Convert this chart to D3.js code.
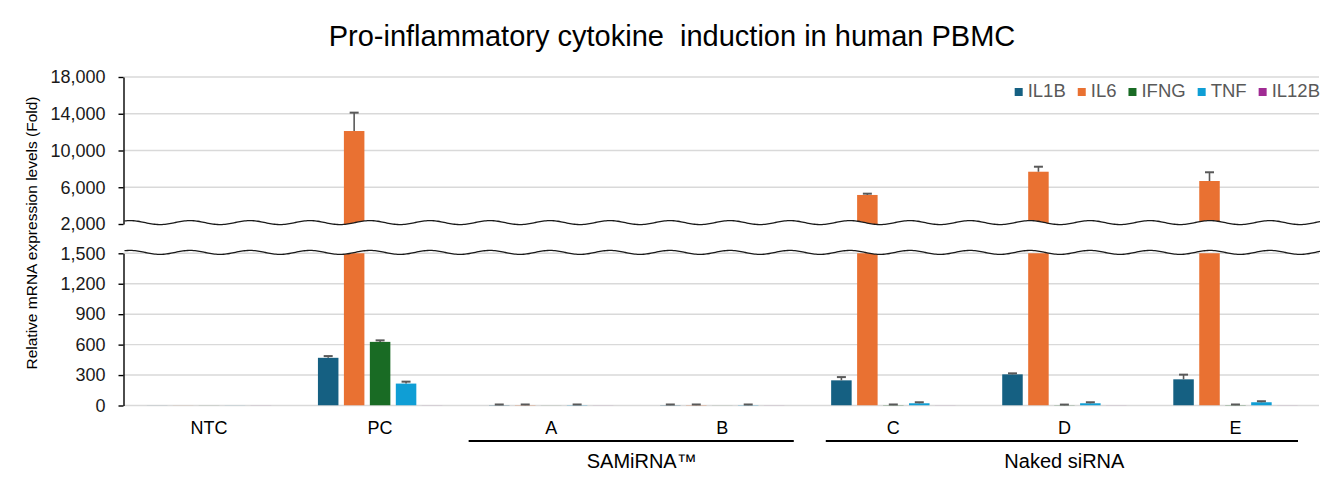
<!DOCTYPE html>
<html>
<head>
<meta charset="utf-8">
<script src="https://cdn.jsdelivr.net/npm/d3@7"></script>
<style>
  html, body { margin: 0; padding: 0; background: #fff; }
  svg { display: block; font-family: "Liberation Sans", Arial, sans-serif; }
</style>
</head>
<body>
<svg id="chart" width="1343" height="487"></svg>
<script>
// ---------- data ----------
const categories = ["NTC", "PC", "A", "B", "C", "D", "E"];
const seriesNames = ["IL1B", "IL6", "IFNG", "TNF", "IL12B"];
const seriesColors = ["#156082", "#E97132", "#196B24", "#0F9ED5", "#A02B93"];

const IL1B  = [1, 470, 4, 4, 248, 307, 258];
const IL6   = [1, 12120, 4, 4, 5160, 7690, 6680];
const IFNG  = [1, 627, 1, 1, 4, 3, 4];
const TNF   = [1, 216, 4, 4, 22, 22, 32];
const IL12B = [1, 1, 1, 1, 1, 1, 1];

const IL1B_err  = [0, 17, 6, 6, 32, 10, 46];
const IL6_err   = [0, 2000, 6, 6, 140, 545, 950];
const IFNG_err  = [0, 15, 0, 0, 6, 6, 6];
const TNF_err   = [0, 19, 6, 6, 10, 10, 10];
const IL12B_err = [0, 0, 0, 0, 0, 0, 0];

const upperTicks = [2000, 6000, 10000, 14000, 18000];
const lowerTicks = [0, 300, 600, 900, 1200, 1500];

const groups = [
  { label: "SAMiRNA™", from: "A", to: "B" },
  { label: "Naked siRNA", from: "C", to: "E" }
];

const title = "Pro-inflammatory cytokine  induction in human PBMC";
const yTitle = "Relative mRNA expression levels (Fold)";

// ---------- build ----------
const values = [IL1B, IL6, IFNG, TNF, IL12B];
const errs = [IL1B_err, IL6_err, IFNG_err, TNF_err, IL12B_err];
const rows = [];
categories.forEach((c, i) => {
  seriesNames.forEach((s, j) => {
    rows.push({ cat: c, series: s, value: values[j][i], err: errs[j][i], color: seriesColors[j] });
  });
});

const svg = d3.select("#chart");
const xL = 123.5, xR = 1321;

const x0 = d3.scaleBand().domain(categories).range([xL, xR]).padding(0);
const x1 = d3.scaleBand().domain(seriesNames).range([0, x0.bandwidth()])
  .paddingInner(0.21).paddingOuter(0.9);

const yUp = d3.scaleLinear().domain([2000, 18000]).range([224, 77]);
const yLo = d3.scaleLinear().domain([0, 1500]).range([405.5, 253.3]);

const fmt = d3.format(",");

// clip paths
const defs = svg.append("defs");
defs.append("clipPath").attr("id", "clipUp").append("rect")
  .attr("x", xL).attr("y", yUp(18000) - 5).attr("width", xR - xL).attr("height", yUp(2000) - yUp(18000) + 5);
defs.append("clipPath").attr("id", "clipLo").append("rect")
  .attr("x", xL).attr("y", yLo(1500)).attr("width", xR - xL).attr("height", yLo(0) - yLo(1500));

// gridlines
const gridCol = "#D9D9D9";
svg.append("g").selectAll("line").data(upperTicks.filter(t => t !== 2000)).join("line")
  .attr("x1", xL).attr("x2", xR - 2)
  .attr("y1", d => yUp(d)).attr("y2", d => yUp(d))
  .attr("stroke", gridCol).attr("stroke-width", 1.4);
svg.append("g").selectAll("line").data(lowerTicks).join("line")
  .attr("x1", xL).attr("x2", xR - 2)
  .attr("y1", d => yLo(d)).attr("y2", d => yLo(d))
  .attr("stroke", gridCol).attr("stroke-width", 1.4);

// bars, lower panel
svg.append("g").attr("clip-path", "url(#clipLo)")
  .selectAll("rect").data(rows).join("rect")
  .attr("x", d => x0(d.cat) + x1(d.series))
  .attr("width", x1.bandwidth())
  .attr("y", d => yLo(Math.min(d.value, 1600)))
  .attr("height", d => yLo(0) - yLo(Math.min(d.value, 1600)))
  .attr("fill", d => d.color);

// bars, upper panel
svg.append("g").attr("clip-path", "url(#clipUp)")
  .selectAll("rect").data(rows.filter(d => d.value > 2000)).join("rect")
  .attr("x", d => x0(d.cat) + x1(d.series))
  .attr("width", x1.bandwidth())
  .attr("y", d => yUp(d.value))
  .attr("height", d => yUp(1900) - yUp(d.value))
  .attr("fill", d => d.color);

// break: white band between two wavy lines
const period = 60, amp = 2, phase = 130;
const waveUpC = 222.6, waveLoC = 252.4;
const xs = d3.range(xL + 1, xR + 0.5, 1.5);
const wave = (c) => xs.map(x => [x, c - amp * Math.cos(2 * Math.PI * (x - phase) / period)]);
const upPts = wave(waveUpC), loPts = wave(waveLoC);
svg.append("path")
  .attr("d", d3.line()(upPts.concat(loPts.slice().reverse())) + "Z")
  .attr("fill", "#fff");
const lineGen = d3.line().curve(d3.curveBasis);
svg.append("path").attr("d", lineGen(upPts)).attr("fill", "none")
  .attr("stroke", "#1a1a1a").attr("stroke-width", 1.3);
svg.append("path").attr("d", lineGen(loPts)).attr("fill", "none")
  .attr("stroke", "#1a1a1a").attr("stroke-width", 1.3);

// error bars
const ebCol = "#595959";
const ebRows = rows.filter(d => d.err > 0);
const ebG = svg.append("g");
function yOf(v) { return v > 1500 ? yUp(v) : yLo(v); }
ebRows.forEach(d => {
  const cx = x0(d.cat) + x1(d.series) + x1.bandwidth() / 2;
  const y1 = yOf(d.value), y2 = yOf(d.value + d.err);
  ebG.append("line").attr("x1", cx).attr("x2", cx).attr("y1", Math.min(y1, yLo(0))).attr("y2", y2)
    .attr("stroke", ebCol).attr("stroke-width", 1.6);
  ebG.append("line").attr("x1", cx - 4.5).attr("x2", cx + 4.5).attr("y1", y2).attr("y2", y2)
    .attr("stroke", ebCol).attr("stroke-width", 2);
});

// axes
const tickCol = "#1a1a1a";
const axUp = svg.append("g").attr("transform", `translate(${xL},0)`)
  .call(d3.axisLeft(yUp).tickValues(upperTicks).tickFormat(fmt).tickSize(5).tickPadding(13).tickSizeOuter(0));
const axLo = svg.append("g").attr("transform", `translate(${xL},0)`)
  .call(d3.axisLeft(yLo).tickValues(lowerTicks).tickFormat(fmt).tickSize(5).tickPadding(13).tickSizeOuter(0));
[axUp, axLo].forEach(a => {
  a.select(".domain").attr("stroke", "#000").attr("stroke-width", 1.4);
  a.selectAll(".tick line").attr("stroke", "#000").attr("stroke-width", 1.4);
  a.selectAll(".tick text").attr("fill", tickCol).style("font-size", "18px")
    .style("font-family", '"Liberation Sans", Arial, sans-serif');
});

// category labels
svg.append("g").selectAll("text").data(categories).join("text")
  .attr("x", d => x0(d) + x0.bandwidth() / 2)
  .attr("y", 434)
  .attr("text-anchor", "middle")
  .attr("fill", "#000")
  .style("font-size", "18px")
  .text(d => d);

// group brackets
const gOffsets = { "SAMiRNA™": [3, -14, 5], "Naked siRNA": [18, -23, 0] };
groups.forEach(g => {
  const o = gOffsets[g.label];
  const a = x0(g.from) + o[0];
  const b = x0(g.to) + x0.bandwidth() + o[1];
  svg.append("line").attr("x1", a).attr("x2", b).attr("y1", 441).attr("y2", 441)
    .attr("stroke", "#000").attr("stroke-width", 2.2);
  const mid = (x0(g.from) + x0(g.to) + x0.bandwidth()) / 2 + o[2];
  svg.append("text").attr("x", mid).attr("y", 468).attr("text-anchor", "middle")
    .attr("fill", "#000").style("font-size", "20px").text(g.label);
});

// title
svg.append("text").attr("x", 672).attr("y", 46).attr("text-anchor", "middle")
  .attr("fill", "#000").style("font-size", "29px").style("white-space", "pre")
  .attr("xml:space", "preserve").text(title);

// y-axis title
svg.append("text").attr("transform", "translate(37,233) rotate(-90)")
  .attr("text-anchor", "middle").attr("fill", "#000").style("font-size", "15.5px").text(yTitle);

// legend (right aligned)
const leg = svg.append("g");
const items = seriesNames.map((s, i) => {
  const g = leg.append("g");
  g.append("rect").attr("width", 8).attr("height", 8).attr("y", -8.5).attr("fill", seriesColors[i]);
  const t = g.append("text").attr("x", 13).attr("y", 0).attr("fill", "#595959")
    .style("font-size", "18.5px").text(s);
  return { g, w: 13 + t.node().getComputedTextLength() };
});
let cx = 1320;
for (let i = items.length - 1; i >= 0; i--) {
  cx -= items[i].w;
  items[i].g.attr("transform", `translate(${cx},96.5)`);
  cx -= 12;
}
</script>
</body>
</html>
